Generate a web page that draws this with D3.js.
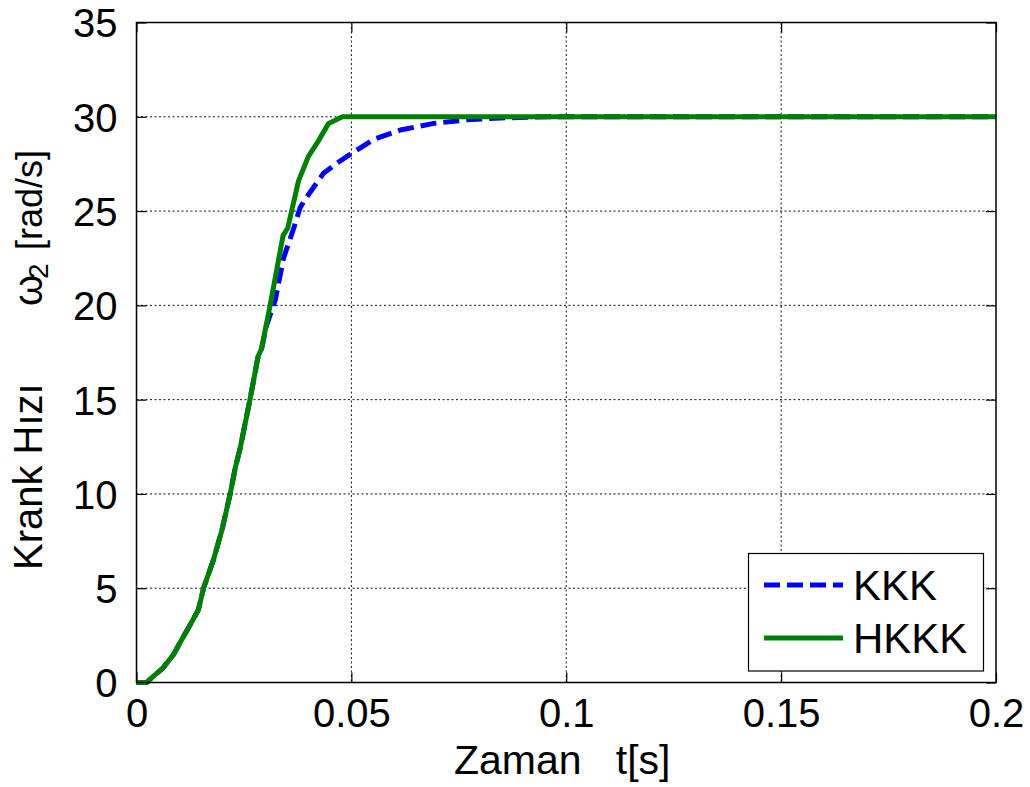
<!DOCTYPE html>
<html>
<head>
<meta charset="utf-8">
<script src="https://cdn.jsdelivr.net/npm/d3@7"></script>
<style>
  html, body { margin: 0; padding: 0; background: #fff; }
  svg { display: block; }
  text { font-family: "Liberation Sans", Arial, sans-serif; fill: #000; white-space: pre; }
</style>
</head>
<body>
<svg id="chart" width="1030" height="787"></svg>
<script>
// Crank speed response: time [s] and angular speed [rad/s]
const timeKKK  = [0, 0.0024, 0.0039, 0.0062, 0.0086, 0.0105, 0.0125, 0.0144, 0.0156, 0.0179, 0.0199, 0.0218, 0.0230, 0.0241, 0.0264, 0.0283, 0.0291, 0.0302, 0.0323, 0.0342, 0.0366, 0.0381, 0.0404, 0.0435, 0.0467, 0.0500, 0.0552, 0.0614, 0.0692, 0.0769, 0.0847, 0.0960, 0.2];
const speedKKK = [0, 0, 0.33, 0.78, 1.48, 2.27, 3.06, 3.86, 5.0, 6.5, 8.1, 10.0, 11.4, 12.4, 15.0, 17.3, 17.7, 18.9, 20.3, 22.5, 24.1, 25.2, 26.0, 27.0, 27.55, 28.05, 28.8, 29.3, 29.65, 29.84, 29.94, 30, 30];

const timeHKKK  = [0, 0.0024, 0.0039, 0.0062, 0.0086, 0.0105, 0.0125, 0.0144, 0.0156, 0.0179, 0.0199, 0.0218, 0.0230, 0.0241, 0.0264, 0.0283, 0.0291, 0.0311, 0.0341, 0.0352, 0.0377, 0.0400, 0.0420, 0.0447, 0.0479, 0.2];
const speedHKKK = [0, 0, 0.33, 0.78, 1.48, 2.27, 3.06, 3.86, 5.0, 6.5, 8.1, 10.0, 11.4, 12.4, 15.0, 17.3, 17.7, 20.0, 23.7, 24.1, 26.6, 27.9, 28.6, 29.65, 30, 30];

const xTicks = [0, 0.05, 0.1, 0.15, 0.2];
const xTickLabels = ["0", "0.05", "0.1", "0.15", "0.2"];
const yTicks = [0, 5, 10, 15, 20, 25, 30, 35];
const seriesNames = ["KKK", "HKKK"];

const svg = d3.select("#chart");
const box = { left: 136.5, right: 996, top: 22.5, bottom: 682.5 };

const x = d3.scaleLinear().domain([0, 0.2]).range([box.left, box.right]);
const y = d3.scaleLinear().domain([0, 35]).range([box.bottom, box.top]);

// dotted grid
const grid = svg.append("g");
grid.selectAll("line.gx").data(xTicks.slice(1, -1)).join("line")
  .attr("x1", d => x(d)).attr("x2", d => x(d))
  .attr("y1", box.top).attr("y2", box.bottom)
  .attr("stroke", "#111").attr("stroke-width", 1).attr("stroke-dasharray", "2,2.5");
grid.selectAll("line.gy").data(yTicks.slice(1, -1)).join("line")
  .attr("x1", box.left).attr("x2", box.right)
  .attr("y1", d => y(d)).attr("y2", d => y(d))
  .attr("stroke", "#111").attr("stroke-width", 1).attr("stroke-dasharray", "2,2.5");

// axes with inward ticks on all four sides
const tickLen = 10;
const axB = d3.axisBottom(x).tickValues(xTicks).tickFormat((d, i) => xTickLabels[i]).tickSizeInner(-tickLen).tickSizeOuter(0).tickPadding(16);
const axT = d3.axisTop(x).tickValues(xTicks).tickFormat("").tickSizeInner(-tickLen).tickSizeOuter(0);
const axL = d3.axisLeft(y).tickValues(yTicks).tickFormat(d3.format("d")).tickSizeInner(-tickLen).tickSizeOuter(0).tickPadding(19);
const axR = d3.axisRight(y).tickValues(yTicks).tickFormat("").tickSizeInner(-tickLen).tickSizeOuter(0);

function styleAxis(g) {
  g.select(".domain").remove();
  g.selectAll(".tick line").attr("stroke", "#000").attr("stroke-width", 1.2);
  g.selectAll(".tick text").attr("font-size", 40).attr("font-family", "Liberation Sans, Arial, sans-serif").attr("fill", "#000");
}
svg.append("g").attr("transform", `translate(0,${box.bottom})`).call(axB).call(styleAxis)
  .selectAll(".tick text").attr("dy", "0.71em");
svg.append("g").attr("transform", `translate(0,${box.top})`).call(axT).call(styleAxis);
svg.append("g").attr("transform", `translate(${box.left},0)`).call(axL).call(styleAxis)
  .selectAll(".tick text").attr("dy", "0.36em");
svg.append("g").attr("transform", `translate(${box.right},0)`).call(axR).call(styleAxis);

// curves
const line = d3.line().x(d => x(d[0])).y(d => y(d[1]));
const kkk = timeKKK.map((t, i) => [t, speedKKK[i]]);
const hkkk = timeHKKK.map((t, i) => [t, speedHKKK[i]]);

svg.append("path").datum(kkk).attr("d", line)
  .attr("fill", "none").attr("stroke", "#0000ff").attr("stroke-width", 5)
  .attr("stroke-dasharray", "16,7").attr("stroke-linejoin", "round");
svg.append("path").datum(hkkk).attr("d", line)
  .attr("fill", "none").attr("stroke", "#008000").attr("stroke-width", 5)
  .attr("stroke-linejoin", "round");

// frame
svg.append("rect")
  .attr("x", box.left).attr("y", box.top)
  .attr("width", box.right - box.left).attr("height", box.bottom - box.top)
  .attr("fill", "none").attr("stroke", "#000").attr("stroke-width", 1.5);

// axis titles
svg.append("text")
  .attr("x", (box.left + box.right) / 2 - 4).attr("y", 774)
  .attr("text-anchor", "middle").attr("font-size", 41)
  .text("Zaman   t[s]");

// vertical title, written bottom-to-top
const yt = svg.append("g").attr("transform", "translate(42,0) rotate(-90)");
yt.append("text").attr("x", -570).attr("y", 0).attr("font-size", 40).text("Krank Hızı");
yt.append("text").attr("x", -306).attr("y", 0).attr("font-size", 40)
  .attr("font-family", "Liberation Serif, DejaVu Serif, serif").text("ω");
yt.append("text").attr("x", -279).attr("y", 6).attr("font-size", 28).text("2");
yt.append("text").attr("x", -150).attr("y", 0).attr("text-anchor", "end").attr("font-size", 36).text("[rad/s]");

// legend
const lg = svg.append("g");
lg.append("rect").attr("x", 748.5).attr("y", 553.5).attr("width", 235).attr("height", 117.5)
  .attr("fill", "#fff").attr("stroke", "#000").attr("stroke-width", 1.2);
const legendRows = [
  { name: seriesNames[0], color: "#0000ff", dash: "16,7", y: 585 },
  { name: seriesNames[1], color: "#008000", dash: null, y: 638 }
];
legendRows.forEach(r => {
  lg.append("line").attr("x1", 764).attr("x2", 843).attr("y1", r.y).attr("y2", r.y)
    .attr("stroke", r.color).attr("stroke-width", 5)
    .attr("stroke-dasharray", r.dash);
  lg.append("text").attr("x", 853).attr("y", r.y + 15).attr("font-size", 42).text(r.name);
});
</script>
</body>
</html>
